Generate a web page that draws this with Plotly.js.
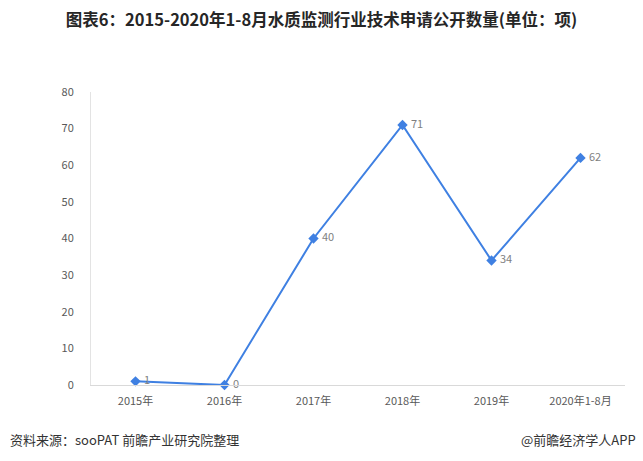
<!DOCTYPE html>
<html><head><meta charset="utf-8">
<script src="https://cdn.plot.ly/plotly-3.0.1.min.js"></script>
<style>html,body{margin:0;padding:0;background:#fff}#c{width:643px;height:461px}</style>
</head><body><div id="c"></div>
<script>
const categories = ["2015年","2016年","2017年","2018年","2019年","2020年1-8月"];
const values = [1, 0, 40, 71, 34, 62];
const yTicks = [0,10,20,30,40,50,60,70,80];

const font = "'Noto Sans CJK SC', 'Liberation Sans', sans-serif";
Plotly.newPlot('c', [{
  x: categories, y: values, type: 'scatter', mode: 'lines+markers+text',
  line: {color: '#3f80e2', width: 2},
  marker: {symbol: 'diamond', size: 8, color: '#3f80e2'},
  text: values.map(v => ' ' + v), textposition: 'middle right',
  textfont: {family: font, size: 11, color: '#7f7f7f'},
  cliponaxis: false, hoverinfo: 'skip'
}], {
  width: 643, height: 461,
  margin: {l: 91, r: 18, t: 92, b: 76},
  paper_bgcolor: '#fff', plot_bgcolor: '#fff',
  showlegend: false,
  title: {text: '<b>图表6：2015-2020年1-8月水质监测行业技术申请公开数量(单位：项)</b>',
    x: 0.5, xanchor: 'center', y: 0.956, yanchor: 'middle',
    font: {family: font, size: 16.5, color: '#262626'}},
  xaxis: {type: 'category', range: [-0.5, 5.5], showgrid: false, zeroline: false, showline: true,
    linecolor: '#d9d9d9', linewidth: 1, ticks: '', ticklabelstandoff: 6,
    tickfont: {family: font, size: 11, color: '#595959'}, fixedrange: true},
  yaxis: {range: [0, 80], tickvals: yTicks, showgrid: false, zeroline: false,
    showline: true, linecolor: '#e3e3e3', linewidth: 1, ticks: '',
    ticklabelstandoff: 14,
    tickfont: {family: font, size: 11, color: '#595959'}, fixedrange: true},
  annotations: [
    {text: '资料来源：sooPAT 前瞻产业研究院整理', xref: 'paper', yref: 'paper',
     x: -0.155, y: -0.185, xanchor: 'left', yanchor: 'middle', showarrow: false,
     font: {family: font, size: 13, color: '#333'}},
    {text: '@前瞻经济学人APP', xref: 'paper', yref: 'paper',
     x: 1.024, y: -0.185, xanchor: 'right', yanchor: 'middle', showarrow: false,
     font: {family: font, size: 13, color: '#333'}}
  ]
}, {displayModeBar: false, staticPlot: true});
</script></body></html>
